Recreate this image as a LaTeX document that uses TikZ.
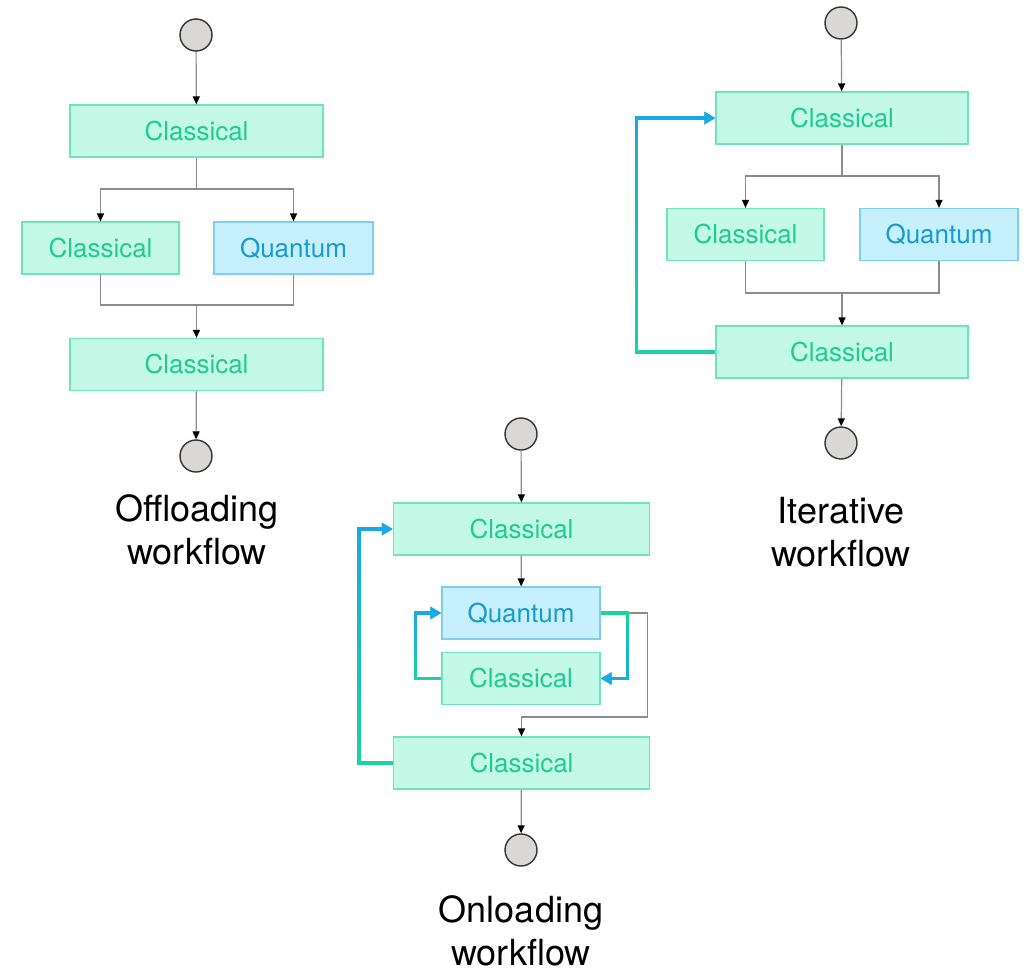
\documentclass[tikz,border=0pt]{standalone}
\usepackage{fontspec}
\setmainfont{TeX Gyre Heros}
\usetikzlibrary{arrows.meta,fadings}
\definecolor{clfill}{RGB}{196,249,232}
\definecolor{clborder}{RGB}{111,227,189}
\definecolor{cltext}{RGB}{29,204,145}
\definecolor{qfill}{RGB}{198,240,253}
\definecolor{qborder}{RGB}{124,207,239}
\definecolor{qtext}{RGB}{26,155,207}
\definecolor{loopgreen}{RGB}{29,211,160}
\definecolor{loopblue}{RGB}{26,169,230}
\definecolor{linegray}{RGB}{140,140,140}
\definecolor{termfill}{RGB}{218,216,214}
\begin{document}
\begin{tikzpicture}[x=1pt,y=-1pt,
  box/.style={line width=1.2pt, minimum height=52pt, inner sep=0pt, font=\fontsize{26}{30}\selectfont},
  classical/.style={box, draw=clborder, fill=clfill, text=cltext},
  quantum/.style={box, draw=qborder, fill=qfill, text=qtext},
  terminal/.style={circle, draw=black!80, fill=termfill, line width=1.4pt, minimum size=32pt, inner sep=0pt},
  line/.style={draw=linegray, line width=1.2pt},
  flow/.style={line, -{Triangle[length=8pt,width=7pt,color=black]}},
  feedback/.style={line width=3.5pt, draw=loopgreen, -{Triangle[length=11pt,width=12pt]}},
  caption/.style={align=center, font=\fontsize{36}{43}\selectfont}]
\useasboundingbox (0,0) rectangle (1025,974);

% offloading
\node[terminal] (os) at (196,35) {};
\node[classical, minimum width=253pt] (oc1) at (196.5,131) {Classical};
\node[classical, minimum width=157pt] (oc2) at (100.5,248) {Classical};
\node[quantum, minimum width=159pt] (oq) at (293.5,248) {Quantum};
\node[classical, minimum width=253pt] (oc3) at (196.5,364.5) {Classical};
\node[terminal] (oe) at (196,456) {};
\node[caption] (olabel) at (197,530) {Offloading\\workflow};
\coordinate (osplit) at (196.5,189);
\coordinate (omerge) at (196.5,305);
\draw[flow] (os) -- (oc1);
\draw[line] (oc1.south) -- (osplit);
\draw[flow] (osplit) -| (oc2.north);
\draw[flow] (osplit) -| (oq.north);
\draw[line] (oc2.south) |- (omerge) -| (oq.south);
\draw[flow] (omerge) -- (oc3);
\draw[flow] (oc3) -- (oe);

% iterative
\node[terminal] (is) at (841,23) {};
\node[classical, minimum width=252pt] (ic1) at (842,118) {Classical};
\node[classical, minimum width=157pt] (ic2) at (745.5,234.5) {Classical};
\node[quantum, minimum width=158pt] (iq) at (939,234.5) {Quantum};
\node[classical, minimum width=252pt] (ic3) at (842,352) {Classical};
\node[terminal] (ie) at (841,443) {};
\node[caption] (ilabel) at (841,532) {Iterative\\workflow};
\coordinate (isplit) at (842,176);
\coordinate (imerge) at (842,293);
\draw[flow] (is) -- (ic1);
\draw[line] (ic1.south) -- (isplit);
\draw[flow] (isplit) -| (ic2.north);
\draw[flow] (isplit) -| (iq.north);
\draw[line] (ic2.south) |- (imerge) -| (iq.south);
\draw[flow] (imerge) -- (ic3);
\draw[flow] (ic3) -- (ie);
\draw[feedback] (ic3.west) -- ++(-79,0) |- (ic1.west);
\draw[feedback, draw=loopblue, path fading=south] (ic3.west) -- ++(-79,0) |- (ic1.west);

% onloading
\node[terminal] (ns) at (521,434) {};
\node[classical, minimum width=256pt] (nc1) at (521.5,529) {Classical};
\node[quantum, minimum width=158pt] (nq) at (521,613) {Quantum};
\node[classical, minimum width=158pt] (nc2) at (521,678.5) {Classical};
\node[classical, minimum width=256pt] (nc3) at (521.5,763) {Classical};
\node[terminal] (ne) at (521,850) {};
\node[caption] (nlabel) at (521,931) {Onloading\\workflow};
\coordinate (nmerge) at (521.5,717);
\draw[flow] (ns) -- (nc1);
\draw[flow] (nc1) -- (nq);
\draw[flow] ([xshift=27pt]nq.east) -- ++(20,0) |- (nmerge) -- (nc3);
\draw[feedback] (nc2.west) -- ++(-26,0) |- (nq.west);
\draw[feedback, draw=loopblue, path fading=south] (nc2.west) -- ++(-26,0) |- (nq.west);
\draw[feedback] (nq.east) -- ++(27,0) |- (nc2.east);
\draw[feedback, draw=loopblue, path fading=north] (nq.east) -- ++(27,0) |- (nc2.east);
\draw[feedback] (nc3.west) -- ++(-34,0) |- (nc1.west);
\draw[feedback, draw=loopblue, path fading=south] (nc3.west) -- ++(-34,0) |- (nc1.west);
\draw[flow] (nc3) -- (ne);
\end{tikzpicture}
\end{document}
